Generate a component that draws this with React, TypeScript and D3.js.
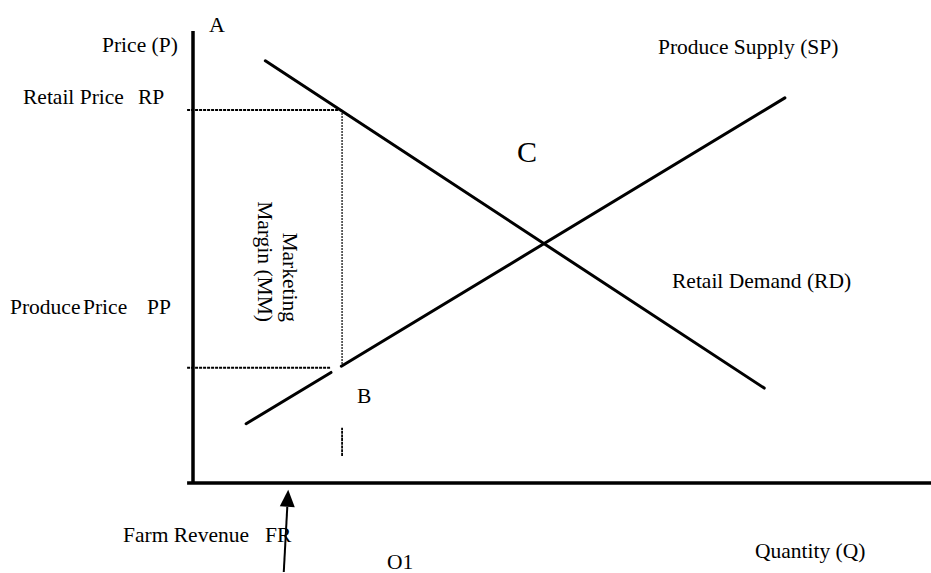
import React from 'react';
import * as d3 from 'd3';

const W = 931;
const H = 573;

// Schematic values (abstract units: quantity 0-100, price 0-100)
const demandQ = [9.8, 77.4];
const demandP = [93.4, 21.0];
const supplyQ = [7.2, 80.2];
const supplyP = [13.1, 85.2];
const retailPrice = 82.5; // RP
const producePrice = 25.5; // PP
const marginQ = 20.2; // quantity where the margin is read
const supplyGap = [18.7, 20.1]; // break in the supply line around B
const axisQ = [-0.8, 100];
const axisP = [0, 100];
const markerP = [6.0, 12.2]; // short dashed marker below B
const arrowQ = [12.3, 12.9];
const arrowP = [-19.7, -1.5];

const FONT = '"Liberation Serif", "Times New Roman", Times, serif';

export default function App() {
  const x = d3.scaleLinear().domain([0, 100]).range([193, 931]);
  const y = d3.scaleLinear().domain([0, 100]).range([483, 31]);
  const line = d3
    .line<[number, number]>()
    .x((d) => x(d[0]))
    .y((d) => y(d[1]));

  const supplyAt = (q: number) =>
    supplyP[0] + ((q - supplyQ[0]) * (supplyP[1] - supplyP[0])) / (supplyQ[1] - supplyQ[0]);

  const demandPts: [number, number][] = [
    [demandQ[0], demandP[0]],
    [demandQ[1], demandP[1]],
  ];
  const supplySeg1: [number, number][] = [
    [supplyQ[0], supplyP[0]],
    [supplyGap[0], supplyAt(supplyGap[0])],
  ];
  const supplySeg2: [number, number][] = [
    [supplyGap[1], supplyAt(supplyGap[1])],
    [supplyQ[1], supplyP[1]],
  ];

  // arrow geometry
  const tx = x(arrowQ[1]);
  const ty = y(arrowP[1]);
  const bx = x(arrowQ[0]);
  const by = y(arrowP[0]);
  const len = Math.hypot(tx - bx, ty - by);
  const ux = (tx - bx) / len;
  const uy = (ty - by) / len;
  const headL = 17;
  const headW = 7.5;
  const hbx = tx - ux * headL;
  const hby = ty - uy * headL;
  const head = [
    [tx, ty],
    [hbx - uy * headW, hby + ux * headW],
    [hbx + uy * headW, hby - ux * headW],
  ]
    .map((p) => p.join(','))
    .join(' ');

  const txt = { fontFamily: FONT, fontSize: 21.5, fill: '#000' } as const;

  return (
    <svg
      width={W}
      height={H}
      style={{ position: 'absolute', left: 0, top: 0, background: '#fff' }}
    >
      <rect x={0} y={0} width={W} height={H} fill="#fff" />

      {/* dotted guide lines */}
      <path
        d={line([
          [axisQ[0], retailPrice],
          [marginQ, retailPrice],
        ]) as string}
        stroke="#000"
        strokeWidth={2}
        strokeDasharray="3 1"
        fill="none"
      />
      <path
        d={line([
          [axisQ[0], producePrice],
          [supplyGap[0], producePrice],
        ]) as string}
        stroke="#000"
        strokeWidth={2}
        strokeDasharray="3 1"
        fill="none"
      />
      <path
        d={line([
          [marginQ, retailPrice],
          [marginQ, producePrice],
        ]) as string}
        stroke="#333"
        strokeWidth={1.5}
        strokeDasharray="2 1"
        fill="none"
      />
      <path
        d={line([
          [marginQ, markerP[0]],
          [marginQ, markerP[1]],
        ]) as string}
        stroke="#000"
        strokeWidth={1.8}
        strokeDasharray="3 0.7"
        fill="none"
      />

      {/* axes */}
      <path
        d={line([
          [0, axisP[1]],
          [0, axisP[0]],
        ]) as string}
        stroke="#000"
        strokeWidth={3.5}
        fill="none"
      />
      <path
        d={line([
          [axisQ[0], 0],
          [axisQ[1], 0],
        ]) as string}
        stroke="#000"
        strokeWidth={3.5}
        fill="none"
      />

      {/* demand & supply */}
      <path d={line(demandPts) as string} stroke="#000" strokeWidth={3} strokeLinecap="round" fill="none" />
      <path d={line(supplySeg1) as string} stroke="#000" strokeWidth={3} strokeLinecap="round" fill="none" />
      <path d={line(supplySeg2) as string} stroke="#000" strokeWidth={3} strokeLinecap="round" fill="none" />

      {/* arrow */}
      <line x1={bx} y1={by} x2={hbx} y2={hby} stroke="#000" strokeWidth={2} />
      <polygon points={head} fill="#000" />

      {/* labels */}
      <text x={209} y={32} {...txt} fontSize={22}>A</text>
      <text x={102} y={52} {...txt}>Price (P)</text>
      <text x={23} y={104} {...txt}>Retail Price</text>
      <text x={138} y={104} {...txt}>RP</text>
      <text x={10} y={314} {...txt}>Produce</text>
      <text x={83} y={314} {...txt}>Price</text>
      <text x={147} y={314} {...txt}>PP</text>
      <text x={123} y={542} {...txt}>Farm Revenue</text>
      <text x={265} y={542} {...txt}>FR</text>
      <text x={387} y={569} {...txt}>O1</text>
      <text x={357} y={403} {...txt}>B</text>
      <text x={517} y={162} {...txt} fontSize={30}>C</text>
      <text x={658} y={54} {...txt}>Produce Supply (SP)</text>
      <text x={672} y={288} {...txt}>Retail Demand (RD)</text>
      <text x={755} y={558} {...txt}>Quantity (Q)</text>
      <text transform="translate(283,322) rotate(90)" textAnchor="end" {...txt}>
        Marketing
      </text>
      <text transform="translate(258,322) rotate(90)" textAnchor="end" {...txt}>
        Margin (MM)
      </text>
    </svg>
  );
}
